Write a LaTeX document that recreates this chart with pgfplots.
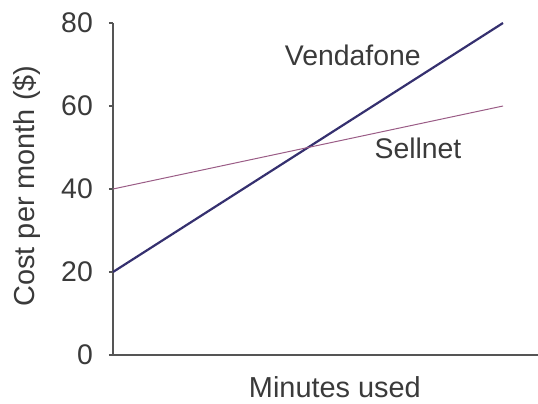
\documentclass[border=0pt]{standalone}
\usepackage{pgfplots}
\pgfplotsset{compat=1.18}
\usepackage{fontspec}
\setmainfont{Liberation Sans}
\definecolor{vend}{HTML}{35306F}
\definecolor{sell}{HTML}{9A5C86}
\definecolor{axgray}{HTML}{555555}
\definecolor{txt}{HTML}{3A3A3A}
\begin{document}
\begin{tikzpicture}
\begin{axis}[
  x=39bp, y=4.15bp,
  xmin=0, xmax=10.9, ymin=0, ymax=80,
  axis x line=bottom, axis y line=left,
  axis line style={-, draw=axgray, line width=2.4bp},
  xtick=\empty,
  ytick={0,20,40,60,80},
  tick align=outside,
  major tick length=4bp,
  tick style={draw=axgray, line width=1.2bp},
  /pgf/number format/assume math mode=true,
  ticklabel style={font=\fontsize{28.5}{34}\selectfont, text=txt},
  yticklabel style={inner sep=0pt, xshift=-16bp},
  xlabel={Minutes used},
  ylabel={Cost per month (\$)},
  label style={font=\fontsize{29}{35}\selectfont, text=txt},
  xlabel style={at={(axis cs:5.69,0)}, anchor=north, inner sep=0pt, yshift=-21bp},
  ylabel style={at={(axis description cs:-0.2024,0.509)}, anchor=center},
  clip=false,
]
\addplot[vend, line width=2.2bp] coordinates {(0,20) (10,80)};
\addplot[sell, line width=1bp] coordinates {(0,40) (10,60)};
\node[font=\fontsize{28.5}{34}\selectfont, text=txt] at (axis cs:6.15,72.3) {Vendafone};
\node[font=\fontsize{28.5}{34}\selectfont, text=txt] at (axis cs:7.82,49.9) {Sellnet};
\end{axis}
\pgfresetboundingbox
\path[use as bounding box] (-113bp,-49bp) rectangle (425bp,355bp);
\end{tikzpicture}
\end{document}
